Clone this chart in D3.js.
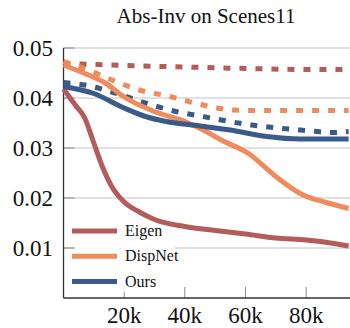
<!DOCTYPE html>
<html><head><meta charset="utf-8">
<script src="https://cdn.jsdelivr.net/npm/d3@7"></script>
<style>body{margin:0;background:#fff;}svg{display:block;}</style>
</head><body>
<script>
const title = "Abs-Inv on Scenes11";
const seriesNames = ["Eigen", "DispNet", "Ours"];
const colors = ["#b25c5c", "#ef8b5d", "#3a5b8a"];
const yTicks = [0.01, 0.02, 0.03, 0.04, 0.05];
const xTicks = [20, 40, 60, 80];
const xTickLabels = ["20k", "40k", "60k", "80k"];

const eigenSolid = [[0,0.0418],[4,0.0385],[7,0.036],[10,0.031],[13,0.026],[16,0.0222],[20,0.0192],[25,0.0172],[30,0.0157],[40,0.0143],[50,0.0135],[60,0.0128],[70,0.0120],[80,0.0116],[86,0.0112],[94,0.0104]];
const eigenDashed = [[0,0.0469],[20,0.0465],[40,0.0462],[60,0.0459],[80,0.0457],[94,0.0457]];
const dispSolid = [[0,0.0466],[7,0.0449],[14,0.0429],[20,0.0402],[30,0.0373],[40,0.0353],[47,0.0333],[52,0.0316],[61,0.0289],[70,0.0243],[79,0.0206],[86,0.0192],[94,0.0179]];
const dispDashed = [[0,0.0473],[6,0.0461],[11,0.0449],[16,0.0436],[25,0.0416],[35,0.0403],[46,0.0386],[56,0.0376],[65,0.0375],[80,0.0375],[94,0.0375]];
const oursSolid = [[0,0.0423],[10,0.0409],[20,0.038],[27,0.0363],[33,0.0354],[45,0.0344],[55,0.0336],[67,0.0323],[78,0.0318],[94,0.0318]];
const oursDashed = [[0,0.0431],[7,0.0426],[17,0.041],[27,0.039],[37,0.0373],[46,0.0363],[52,0.0356],[62,0.0346],[78,0.0336],[89,0.0331],[94,0.0333]];

const W = 350, H = 328;
const svg = d3.select("body").append("svg").attr("width", W).attr("height", H);
const x = d3.scaleLinear().domain([0, 94.46]).range([63.5, 350]);
const y = d3.scaleLinear().domain([0, 0.05]).range([298, 48]);
const font = "'Liberation Serif','Times New Roman',serif";

// gridlines
svg.append("g").selectAll("line").data(yTicks).join("line")
  .attr("x1", x(0)).attr("x2", W).attr("y1", d => y(d)).attr("y2", d => y(d))
  .attr("stroke", "#c4c4c4").attr("stroke-width", 1);
// y tick marks (inward)
svg.append("g").selectAll("line").data(yTicks).join("line")
  .attr("x1", x(0)).attr("x2", x(0) + 11).attr("y1", d => y(d)).attr("y2", d => y(d))
  .attr("stroke", "#8a8a8a").attr("stroke-width", 1);
// x tick marks (inward)
svg.append("g").selectAll("line").data(xTicks).join("line")
  .attr("x1", d => x(d)).attr("x2", d => x(d)).attr("y1", y(0)).attr("y2", y(0) - 11)
  .attr("stroke", "#8a8a8a").attr("stroke-width", 1);

// legend background (beneath curves)
svg.append("rect").attr("x", 75).attr("y", 224).attr("width", 100).attr("height", 68)
  .attr("fill", "#fff").attr("opacity", 0.85);

// axes lines
svg.append("line").attr("x1", x(0)).attr("x2", x(0)).attr("y1", y(0.05)).attr("y2", y(0))
  .attr("stroke", "#333").attr("stroke-width", 1.3);
svg.append("line").attr("x1", x(0)).attr("x2", W).attr("y1", y(0)).attr("y2", y(0))
  .attr("stroke", "#333").attr("stroke-width", 1.3);

// tick labels
svg.append("g").selectAll("text").data(yTicks).join("text")
  .attr("x", 53).attr("y", d => y(d) + 8).attr("text-anchor", "end")
  .attr("font-family", font).attr("font-size", 23).attr("fill", "#111")
  .text(d => d.toFixed(2));
svg.append("g").selectAll("text").data(xTicks).join("text")
  .attr("x", d => x(d)).attr("y", 323).attr("text-anchor", "middle")
  .attr("font-family", font).attr("font-size", 23).attr("fill", "#111")
  .text((d, i) => xTickLabels[i]);

// title
svg.append("text").attr("x", 206).attr("y", 23).attr("text-anchor", "middle")
  .attr("font-family", font).attr("font-size", 21).attr("fill", "#111").text(title);

const line = d3.line().x(d => x(d[0])).y(d => y(d[1])).curve(d3.curveMonotoneX);
const series = [
  {data: eigenDashed, c: 0, dash: true},
  {data: dispDashed, c: 1, dash: true},
  {data: oursDashed, c: 2, dash: true},
  {data: eigenSolid, c: 0, dash: false},
  {data: dispSolid, c: 1, dash: false},
  {data: oursSolid, c: 2, dash: false}
];
svg.append("g").selectAll("path").data(series).join("path")
  .attr("d", d => line(d.data)).attr("fill", "none")
  .attr("stroke", d => colors[d.c]).attr("stroke-width", 5)
  .attr("stroke-dasharray", d => d.dash ? "7,9" : null);

// legend
const lg = svg.append("g");
seriesNames.forEach((n, i) => {
  const ly = 231 + i * 25.3;
  lg.append("line").attr("x1", 72).attr("x2", 117).attr("y1", ly).attr("y2", ly)
    .attr("stroke", colors[i]).attr("stroke-width", 5);
  lg.append("text").attr("x", 125).attr("y", ly + 5).attr("font-family", font)
    .attr("font-size", 16).attr("fill", "#111").text(n);
});
</script>
</body></html>
